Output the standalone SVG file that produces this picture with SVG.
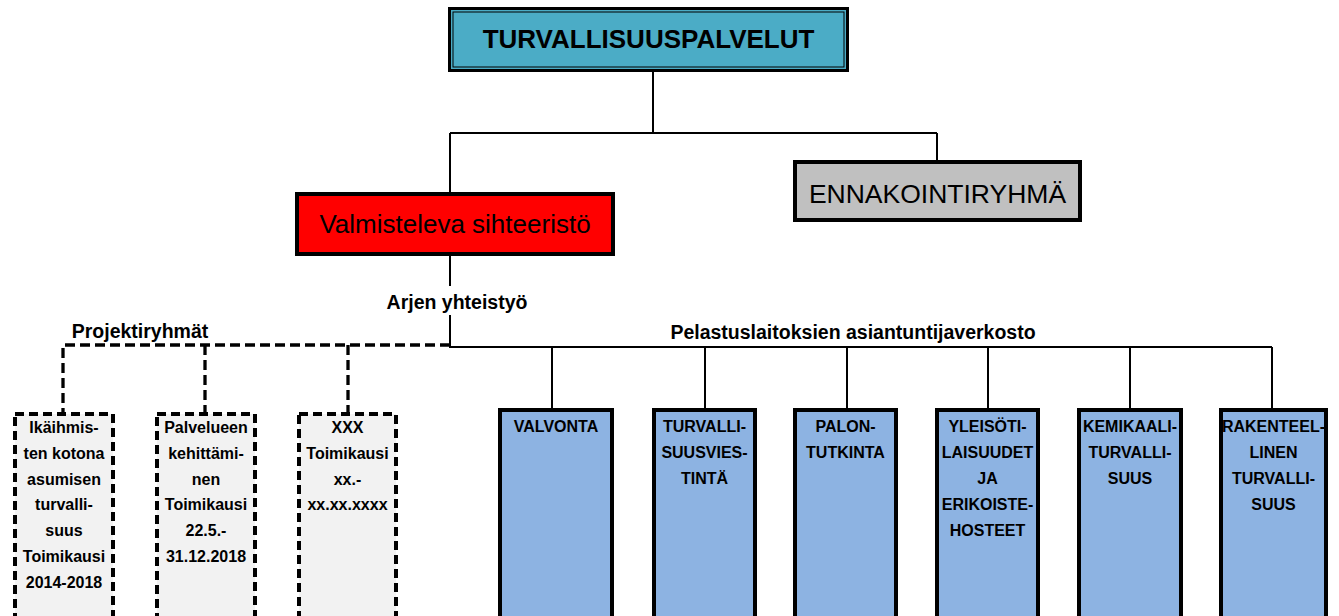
<svg xmlns="http://www.w3.org/2000/svg" width="1339" height="616" viewBox="0 0 1339 616">
<style>
text{font-family:"Liberation Sans",Arial,sans-serif;fill:#000;text-anchor:middle}
.b{font-weight:bold}
.sl{stroke:#000;stroke-width:2;fill:none}
.dl{stroke:#000;stroke-width:3.3;fill:none;stroke-dasharray:10 5}
.dbox{fill:#f2f2f2;stroke:#000;stroke-width:4;stroke-dasharray:9 5}
.bbox{fill:#8db3e2;stroke:#000;stroke-width:4}
.sm{font-size:16px;font-weight:bold}
.lab{font-size:19.5px;font-weight:bold}
</style>
<rect width="1339" height="616" fill="#fff"/>
<g id="connectors">
<path class="sl" d="M653 72V133M450 133H937M450 133V192M937 133V160"/>
<path class="sl" d="M450 256V286M450 315V347H1272"/>
<path class="sl" d="M552 347V408M705 347V408M847 347V408M988 347V408M1130 347V408M1272 347V408"/>
<path class="dl" d="M450 345H63V412M205 345V412M348 345V412"/>
</g>
<g id="turvallisuuspalvelut">
<rect x="449.5" y="8.5" width="398" height="62" fill="#4bacc6" stroke="#000" stroke-width="3"/>
<rect x="453" y="12" width="391" height="55" fill="none" stroke="#000" stroke-width="1"/>
<text x="648.5" y="48" class="b" font-size="26">TURVALLISUUSPALVELUT</text>
</g>
<g id="ennakointiryhma">
<rect x="795" y="162" width="285" height="58" fill="#c0c0c0" stroke="#000" stroke-width="4"/>
<text x="937.5" y="203" font-size="26.5">ENNAKOINTIRYHMÄ</text>
</g>
<g id="valmisteleva">
<rect x="297" y="194" width="316" height="60" fill="#ff0000" stroke="#000" stroke-width="4"/>
<text x="455" y="233" font-size="26">Valmisteleva sihteeristö</text>
</g>
<g id="labels">
<text x="457" y="309" class="lab">Arjen yhteistyö</text>
<text x="140" y="338" class="lab">Projektiryhmät</text>
<text x="853" y="339" class="lab">Pelastuslaitoksien asiantuntijaverkosto</text>
</g>
<g id="proj1">
<rect x="15" y="414" width="98" height="230" class="dbox"/>
<text class="sm" x="64" y="433">Ikäihmis-</text>
<text class="sm" x="64" y="459">ten kotona</text>
<text class="sm" x="64" y="485">asumisen</text>
<text class="sm" x="64" y="510">turvalli-</text>
<text class="sm" x="64" y="536">suus</text>
<text class="sm" x="64" y="562">Toimikausi</text>
<text class="sm" x="64" y="588">2014-2018</text>
</g>
<g id="proj2">
<rect x="157" y="414" width="98" height="230" class="dbox"/>
<text class="sm" x="206" y="433">Palvelueen</text>
<text class="sm" x="206" y="459">kehittämi-</text>
<text class="sm" x="206" y="485">nen</text>
<text class="sm" x="206" y="510">Toimikausi</text>
<text class="sm" x="206" y="536">22.5.-</text>
<text class="sm" x="206" y="562">31.12.2018</text>
</g>
<g id="proj3">
<rect x="299" y="414" width="97" height="230" class="dbox"/>
<text class="sm" x="347.5" y="433">XXX</text>
<text class="sm" x="347.5" y="459">Toimikausi</text>
<text class="sm" x="347.5" y="485">xx.-</text>
<text class="sm" x="347.5" y="510">xx.xx.xxxx</text>
</g>
<g id="valvonta">
<rect x="500" y="410" width="112" height="230" class="bbox"/>
<text class="sm" x="556" y="432">VALVONTA</text>
</g>
<g id="turvallisuusviestinta">
<rect x="654" y="410" width="101" height="230" class="bbox"/>
<text class="sm" x="704.5" y="432">TURVALLI-</text>
<text class="sm" x="704.5" y="458">SUUSVIES-</text>
<text class="sm" x="704.5" y="484">TINTÄ</text>
</g>
<g id="palontutkinta">
<rect x="795" y="410" width="101" height="230" class="bbox"/>
<text class="sm" x="845.5" y="432">PALON-</text>
<text class="sm" x="845.5" y="458">TUTKINTA</text>
</g>
<g id="yleisotilaisuudet">
<rect x="937" y="410" width="101" height="230" class="bbox"/>
<text class="sm" x="987.5" y="432">YLEISÖTI-</text>
<text class="sm" x="987.5" y="458">LAISUUDET</text>
<text class="sm" x="987.5" y="484">JA</text>
<text class="sm" x="987.5" y="510">ERIKOISTE-</text>
<text class="sm" x="987.5" y="536">HOSTEET</text>
</g>
<g id="kemikaaliturvallisuus">
<rect x="1079" y="410" width="102" height="230" class="bbox"/>
<text class="sm" x="1130" y="432">KEMIKAALI-</text>
<text class="sm" x="1130" y="458">TURVALLI-</text>
<text class="sm" x="1130" y="484">SUUS</text>
</g>
<g id="rakenteellinen">
<rect x="1221" y="410" width="105" height="230" class="bbox"/>
<text class="sm" x="1273.5" y="432">RAKENTEEL-</text>
<text class="sm" x="1273.5" y="458">LINEN</text>
<text class="sm" x="1273.5" y="484">TURVALLI-</text>
<text class="sm" x="1273.5" y="510">SUUS</text>
</g>
</svg>
